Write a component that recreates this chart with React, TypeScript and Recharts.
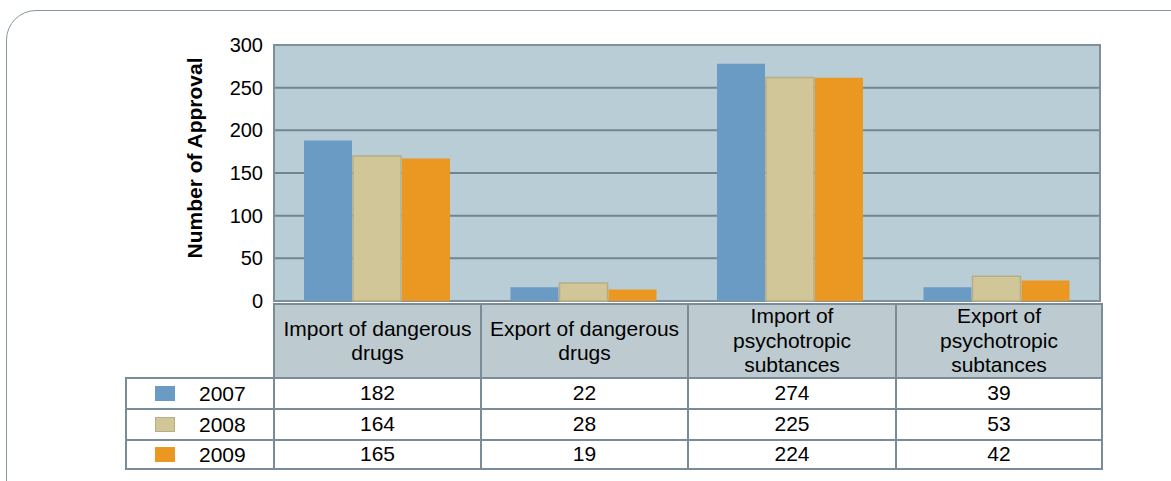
import { BarChart, Bar, XAxis, YAxis, CartesianGrid, ReferenceArea } from 'recharts';

// categories and header labels (as wrapped in the table header)
const categories = ['Import of dangerous drugs', 'Export of dangerous drugs', 'Import of psychotropic subtances', 'Export of psychotropic subtances'];
const headerLines = [
  ['Import of dangerous', 'drugs'],
  ['Export of dangerous', 'drugs'],
  ['Import of', 'psychotropic', 'subtances'],
  ['Export of', 'psychotropic', 'subtances'],
];
const years = ['2007', '2008', '2009'];

// bar heights as drawn in the chart
const bars2007 = [188, 16, 278, 16];
const bars2008 = [170, 21, 262, 29];
const bars2009 = [167, 13.5, 261.5, 24];

// numbers printed in the data table
const table2007 = [182, 22, 274, 39];
const table2008 = [164, 28, 225, 53];
const table2009 = [165, 19, 224, 42];

const yTicks = [0, 50, 100, 150, 200, 250, 300];

const colors = ['#6a9bc5', '#d0c698', '#eb9823'];
const strokes = ['none', '#b8ad84', 'none'];

const data = categories.map((name, i) => ({
  name,
  y2007: bars2007[i],
  y2008: bars2008[i],
  y2009: bars2009[i],
}));
const tableRows = [table2007, table2008, table2009];

const FONT = '"Liberation Sans", Arial, sans-serif';
const LINE = '#7a8c97';

// table geometry (page px)
const colX = [274, 481, 688, 896, 1102];
const legendX = 126;
const headTop = 304;
const rowY = [378, 409, 440, 469];

function Cell(props: { x0: number; x1: number; y0: number; y1: number; bg?: string; children?: any }) {
  const { x0, x1, y0, y1, bg, children } = props;
  return (
    <div
      style={{
        position: 'absolute',
        left: x0 - 1,
        top: y0 - 1,
        width: x1 - x0 + 2,
        height: y1 - y0 + 2,
        boxSizing: 'border-box',
        border: `2px solid ${LINE}`,
        background: bg || '#fff',
        display: 'flex',
        flexDirection: 'column',
        alignItems: 'center',
        justifyContent: 'center',
        fontSize: 21,
        lineHeight: '24.5px',
        color: '#000',
        textAlign: 'center',
      }}
    >
      {children}
    </div>
  );
}

export default function App() {
  return (
    <div style={{ position: 'fixed', left: 0, top: 0, width: 1171, height: 481, overflow: 'hidden', background: '#fff', fontFamily: FONT }}>
      <div
        style={{
          position: 'absolute',
          left: 6,
          top: 10,
          width: 1200,
          height: 520,
          border: '1.5px solid #8596a1',
          borderRadius: 30,
        }}
      />
      <div style={{ position: 'absolute', left: 0, top: 0 }}>
        <BarChart
          width={1171}
          height={481}
          data={data}
          margin={{ top: 45, right: 71, bottom: 180, left: 214 }}
          barSize={48}
          barGap={1}
          style={{ fontFamily: FONT }}
        >
          <CartesianGrid vertical={false} fill="#b9cdd7" stroke="#6f8692" strokeWidth={2} />
          <ReferenceArea y1={0} y2={300} fill="none" stroke="#7d909b" strokeWidth={2} ifOverflow="visible" />
          <XAxis dataKey="name" hide height={0} />
          <YAxis
            domain={[0, 300]}
            ticks={yTicks}
            width={60}
            axisLine={false}
            tickLine={false}
            tickSize={0}
            tickMargin={11}
            tick={{ fill: '#000', fontSize: 20, fontFamily: FONT }}
          />
          <Bar dataKey="y2007" fill={colors[0]} stroke={strokes[0]} isAnimationActive={false} />
          <Bar dataKey="y2008" fill={colors[1]} stroke={strokes[1]} strokeWidth={1.5} isAnimationActive={false} />
          <Bar dataKey="y2009" fill={colors[2]} stroke={strokes[2]} isAnimationActive={false} />
        </BarChart>
      </div>

      <div
        style={{
          position: 'absolute',
          left: 195,
          top: 158,
          transform: 'translate(-50%, -50%) rotate(-90deg)',
          fontWeight: 'bold',
          fontSize: 21,
          whiteSpace: 'nowrap',
          color: '#000',
        }}
      >
        Number of Approval
      </div>

      {headerLines.map((lines, c) => (
        <Cell key={`h${c}`} x0={colX[c]} x1={colX[c + 1]} y0={headTop} y1={rowY[0]} bg="#bdcbd0">
          {lines.map((l) => (
            <div key={l}>{l}</div>
          ))}
        </Cell>
      ))}

      {tableRows.map((row, r) => (
        <div key={`r${r}`}>
          <Cell x0={legendX} x1={colX[0]} y0={rowY[r]} y1={rowY[r + 1]} />
          <div
            style={{
              position: 'absolute',
              left: 155,
              top: (rowY[r] + rowY[r + 1]) / 2 - 7.5,
              width: 20,
              height: 15,
              boxSizing: 'border-box',
              background: colors[r],
              border: strokes[r] === 'none' ? 'none' : `1.5px solid ${strokes[r]}`,
            }}
          />
          <div
            style={{
              position: 'absolute',
              left: 199,
              top: rowY[r],
              height: rowY[r + 1] - rowY[r],
              display: 'flex',
              alignItems: 'center',
              fontSize: 21,
              color: '#000',
            }}
          >
            {years[r]}
          </div>
          {row.map((v, c) => (
            <Cell key={`c${r}${c}`} x0={colX[c]} x1={colX[c + 1]} y0={rowY[r]} y1={rowY[r + 1]}>
              {v}
            </Cell>
          ))}
        </div>
      ))}
    </div>
  );
}
